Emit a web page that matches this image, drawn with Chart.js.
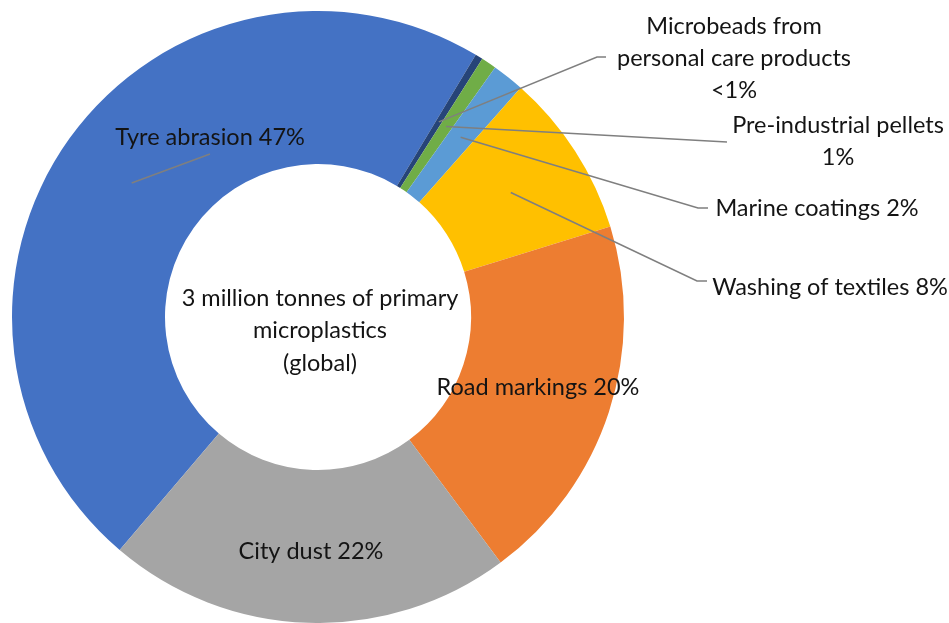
<!DOCTYPE html>
<html>
<head>
<meta charset="utf-8">
<script src="https://cdn.jsdelivr.net/npm/chart.js@4"></script>
<style>
  html, body { margin: 0; padding: 0; background: #fff; }
  #chart { display: block; }
</style>
</head>
<body>
<canvas id="chart" width="949" height="623"></canvas>
<script>
// categories in drawing order (clockwise, starting from tyre abrasion)
const categories = [
  'Tyre abrasion',
  'Microbeads from personal care products',
  'Pre-industrial pellets',
  'Marine coatings',
  'Washing of textiles',
  'Road markings',
  'City dust'
];
// share of primary microplastics, %
const shares = [47.4, 0.4, 0.8, 1.7, 8.7, 19.6, 21.4];
// label texts as printed on the chart
const labelTexts = [
  ['Tyre abrasion 47%'],
  ['Microbeads from', 'personal care products', '<1%'],
  ['Pre-industrial pellets', '1%'],
  ['Marine coatings 2%'],
  ['Washing of textiles 8%'],
  ['Road markings 20%'],
  ['City dust 22%']
];
const centerText = ['3 million tonnes of primary', 'microplastics', '(global)'];

const colors = ['#4472C4', '#264478', '#70AD47', '#5B9BD5', '#FFC000', '#ED7D31', '#A5A5A5'];

// where each label sits and where its leader line ends (leader starts at slice centre)
const labelPlacement = [
  { x: 210, y: 137, leader: [[210, 154]] },
  { x: 734, y: 26, leader: [[597, 57], [606, 57]] },
  { x: 838, y: 125, leader: [[727, 142]] },
  { x: 817, y: 208, leader: [[698, 208], [708, 208]] },
  { x: 830, y: 287, leader: [[697, 281], [707, 281]] },
  { x: 538, y: 387, leader: null },
  { x: 311, y: 551, leader: null }
];

const FONT = '23.5px Lato, "Open Sans", sans-serif';
const LINE_H = 32;

const labelPlugin = {
  id: 'sliceLabels',
  afterDatasetsDraw(chart) {
    const ctx = chart.ctx;
    const arcs = chart.getDatasetMeta(0).data;
    ctx.save();

    // leader lines
    ctx.strokeStyle = '#7F7F7F';
    ctx.lineWidth = 1.6;
    arcs.forEach((arc, i) => {
      const p = labelPlacement[i];
      if (!p.leader) return;
      const c = arc.getCenterPoint();
      ctx.beginPath();
      ctx.moveTo(c.x, c.y);
      p.leader.forEach(pt => ctx.lineTo(pt[0], pt[1]));
      ctx.stroke();
    });

    // texts
    ctx.fillStyle = '#141414';
    ctx.font = FONT;
    ctx.textAlign = 'center';
    ctx.textBaseline = 'middle';
    labelTexts.forEach((lines, i) => {
      const p = labelPlacement[i];
      lines.forEach((t, k) => ctx.fillText(t, p.x, p.y + k * LINE_H));
    });

    // centre text
    const a = arcs[0];
    centerText.forEach((t, k) => {
      ctx.fillText(t, a.x + 2, a.y - 19 + k * 32.5);
    });
    ctx.restore();
  }
};

new Chart(document.getElementById('chart'), {
  type: 'doughnut',
  data: {
    labels: categories,
    datasets: [{
      data: shares,
      backgroundColor: colors,
      borderWidth: 0,
      hoverBorderWidth: 0,
      hoverOffset: 0
    }]
  },
  options: {
    responsive: false,
    animation: false,
    rotation: 220.4,
    cutout: '50%',
    layout: {
      padding: { left: 12, right: 325, top: 11, bottom: 0 }
    },
    plugins: {
      legend: { display: false },
      tooltip: { enabled: false }
    }
  },
  plugins: [labelPlugin]
});
</script>
</body>
</html>
